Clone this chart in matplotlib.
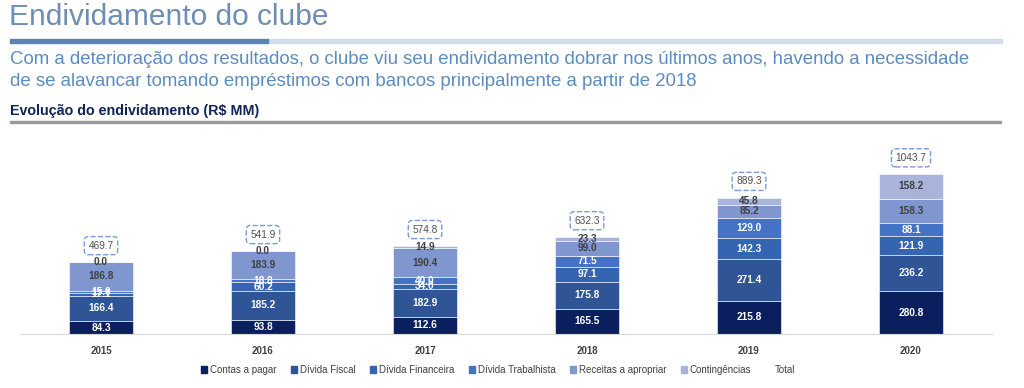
import matplotlib.pyplot as plt
import numpy as np
from matplotlib.patches import Rectangle

# Data
years = ['2015', '2016', '2017', '2018', '2019', '2020']
series_names = ['Contas a pagar', 'Dívida Fiscal', 'Dívida Financeira',
                'Dívida Trabalhista', 'Receitas a apropriar', 'Contingências']
contas_pagar = [84.3, 93.8, 112.6, 165.5, 215.8, 280.8]
divida_fiscal = [166.4, 185.2, 182.9, 175.8, 271.4, 236.2]
divida_financeira = [17.1, 60.2, 34.0, 97.1, 142.3, 121.9]
divida_trabalhista = [15.0, 18.8, 40.0, 71.5, 129.0, 88.1]
receitas_apropriar = [186.8, 183.9, 190.4, 99.0, 85.2, 158.3]
contingencias = [0.0, 0.0, 14.9, 23.3, 45.8, 158.2]
totals = [469.7, 541.9, 574.8, 632.3, 889.3, 1043.7]

series = [contas_pagar, divida_fiscal, divida_financeira,
          divida_trabalhista, receitas_apropriar, contingencias]
colors = ['#0b1f5e', '#2f5597', '#3565b0', '#4472c4', '#7f96cf', '#a8b4dc']
label_colors = ['white', 'white', 'white', 'white', '#404040', '#404040']

plt.rcParams['font.family'] = ['Liberation Sans', 'DejaVu Sans']

W, H = 1024, 388
fig = plt.figure(figsize=(W / 100, H / 100), dpi=100)

def fx(px):
    return px / W

def fy(py):
    return 1 - py / H

# Header texts
fig.text(fx(9), fy(17), 'Endividamento do clube', fontsize=21.5,
         color='#6d8db4', va='center', ha='left')
fig.patches.append(Rectangle((fx(10), fy(43)), fx(258), 4 / H,
                             transform=fig.transFigure, color='#5b84b3', zorder=2))
fig.patches.append(Rectangle((fx(268), fy(43)), fx(734), 4 / H,
                             transform=fig.transFigure, color='#d3dde9', zorder=1))
fig.text(fx(10), fy(60), 'Com a deterioração dos resultados, o clube viu seu endividamento '
         'dobrar nos últimos anos, havendo a necessidade', fontsize=13.4,
         color='#5a8cc0', va='center', ha='left')
fig.text(fx(10), fy(81), 'de se alavancar tomando empréstimos com bancos principalmente '
         'a partir de 2018', fontsize=13.4, color='#5a8cc0', va='center', ha='left')
fig.text(fx(10), fy(111), 'Evolução do endividamento (R$ MM)', fontsize=10.3,
         fontweight='bold', color='#0e2356', va='center', ha='left')
fig.patches.append(Rectangle((fx(10), fy(123)), fx(991), 2 / H,
                             transform=fig.transFigure, color='#9a9a9a'))

# Chart
ax = fig.add_axes([fx(20), 54 / H, fx(972), 194 / H])
x = np.arange(len(years))
bottom = np.zeros(len(years))
for name, vals, c, lc in zip(series_names, series, colors, label_colors):
    vals = np.array(vals)
    ax.bar(x, vals, 0.4, bottom=bottom, color=c, label=name,
           edgecolor='white', linewidth=0.4)
    for xi, v, bt in zip(x, vals, bottom):
        ax.text(xi, bt + v / 2, f'{v:.1f}', ha='center', va='center',
                fontsize=7.3, fontweight='bold', color=lc)
    bottom += vals

for xi, t, top in zip(x, totals, bottom):
    ax.text(xi, top + 108, f'{t:.1f}', ha='center', va='center', fontsize=7.3,
            color='#505050',
            bbox=dict(boxstyle='round,pad=0.4', fc='white', ec='#7a9bd6',
                      ls='--', lw=1))

ax.set_xlim(-0.5, len(years) - 0.5)
ax.set_ylim(0, 1268)
ax.set_xticks(x)
ax.set_xticklabels(years, fontsize=7, fontweight='bold', color='#404040')
ax.tick_params(axis='x', length=0, pad=9)
ax.set_yticks([])
for s in ['top', 'right', 'left']:
    ax.spines[s].set_visible(False)
ax.spines['bottom'].set_color('#d9d9d9')

# Legend with an empty "Total" entry
handles = [plt.Rectangle((0, 0), 1, 1, color=c) for c in colors]
handles.append(plt.Rectangle((0, 0), 1, 1, color='none'))
labels = series_names + ['Total']
fig.legend(handles, labels, loc='center', bbox_to_anchor=(fx(498), fy(370)),
           ncol=7, frameon=False, fontsize=7, handlelength=0.6, handleheight=0.6,
           handletextpad=0.3, columnspacing=1.5, labelcolor='#404040')

fig.savefig('out.png', dpi=100)
